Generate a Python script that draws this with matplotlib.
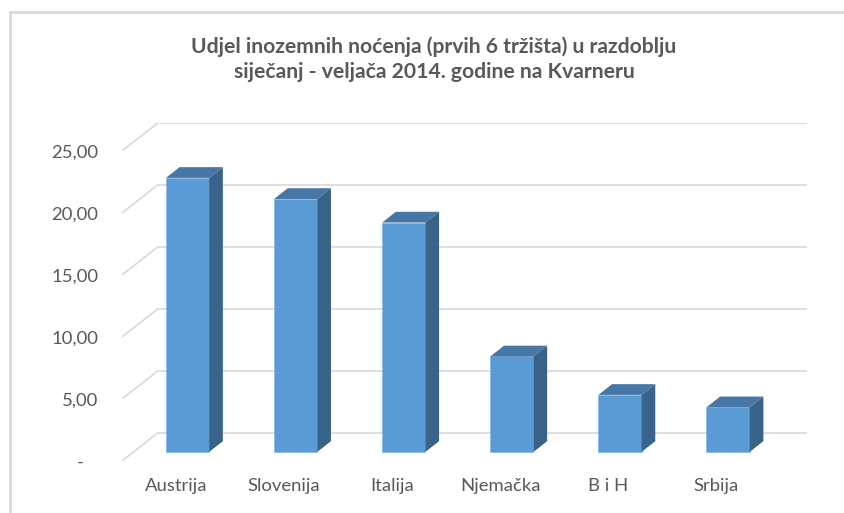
import matplotlib.pyplot as plt
from matplotlib.patches import Polygon
from matplotlib.lines import Line2D
import numpy as np

# data
markets = ['Austrija', 'Slovenija', 'Italija', 'Njemačka', 'B i H', 'Srbija']
share = [22.1, 20.4, 18.5, 7.7, 4.6, 3.6]
yticks = [0, 5, 10, 15, 20, 25]
ytick_labels = ['-   ', '5,00', '10,00', '15,00', '20,00', '25,00']
title = 'Udjel inozemnih noćenja (prvih 6 tržišta) u razdoblju\nsiječanj - veljača 2014. godine na Kvarneru'

plt.rcParams['font.family'] = ['Lato', 'DejaVu Sans']

W, H = 844, 513
fig = plt.figure(figsize=(W / 100, H / 100), dpi=100, facecolor='white')

# plot area in pixels (front plane left/bottom, back plane top/right)
left_px, right_px, bottom_px, top_px = 122, 806.7, 461, 122.7
ax = fig.add_axes([left_px / W, 1 - bottom_px / H,
                   (right_px - left_px) / W, (bottom_px - top_px) / H])
px_cat = 108.1     # pixels per category
px_val = 12.4      # pixels per unit
DX = 36 / px_cat   # depth shift (x, category units)
DY = 28.3 / px_val # depth shift (y, value units)
ax.set_xlim(-0.5, -0.5 + (right_px - left_px) / px_cat)
ax.set_ylim(0, (bottom_px - top_px) / px_val)

grid_c = '#d9d9d9'
xmax = ax.get_xlim()[1]
for t in yticks:
    # side wall diagonal + back wall line
    ax.plot([-0.5, -0.5 + DX], [t, t + DY], color=grid_c, lw=1.2, zorder=1,
            solid_capstyle='butt')
    ax.plot([-0.5 + DX, xmax], [t + DY, t + DY], color=grid_c, lw=1.2, zorder=1,
            solid_capstyle='butt')

# 3d-ish bars
f0 = 0.32    # bar front position as fraction of depth
fd = 0.38    # bar depth as fraction of depth
bw = 0.4
front_c, top_c, side_c = '#5b9bd5', '#4677a6', '#3a6389'
x = np.arange(len(markets))
xs = x + f0 * DX
base = f0 * DY
ax.bar(xs, share, width=bw, bottom=base, color=front_c, zorder=3,
       edgecolor='#7aaee0', linewidth=0.4)
ddx, ddy = fd * DX, fd * DY
for xi, v in zip(xs, share):
    l, r, tp = xi - bw / 2, xi + bw / 2, base + v
    ax.add_patch(Polygon([(l, tp), (r, tp), (r + ddx, tp + ddy), (l + ddx, tp + ddy)],
                         closed=True, color=top_c, zorder=3, lw=0))
    ax.add_patch(Polygon([(r, base), (r + ddx, base + ddy), (r + ddx, tp + ddy), (r, tp)],
                         closed=True, color=side_c, zorder=3, lw=0))

ax.set_yticks(yticks)
ax.set_yticklabels(ytick_labels)
ax.set_xticks(x)
ax.set_xticklabels(markets)
ax.tick_params(axis='both', length=0, labelsize=13.3, labelcolor='#595959')
ax.tick_params(axis='y', pad=17)
ax.tick_params(axis='x', pad=12)
for s in ax.spines.values():
    s.set_visible(False)
ax.patch.set_alpha(0)

fig.text(434 / W, 1 - 59 / H, title, ha='center', va='center', fontsize=15.2,
         fontweight='bold', color='#595959', linespacing=1.28)

# chart border (left and top visible)
fig.add_artist(Line2D([9.5 / W, 9.5 / W], [0, 1 - 12 / H], color='#d9d9d9', lw=2,
                      transform=fig.transFigure))
fig.add_artist(Line2D([9.5 / W, 1], [1 - 12 / H, 1 - 12 / H], color='#d9d9d9', lw=2,
                      transform=fig.transFigure))

fig.savefig('out.png', dpi=100)
